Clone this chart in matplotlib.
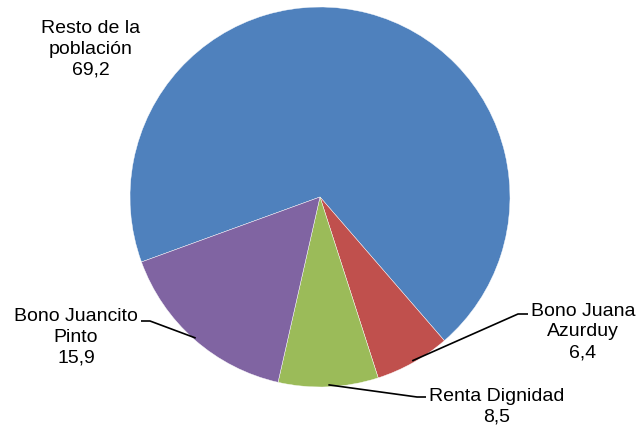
import numpy as np
import matplotlib.pyplot as plt

# data (order clockwise from the 200 deg start)
labels = ['Resto de la\npoblación', 'Bono Juana\nAzurduy', 'Renta Dignidad', 'Bono Juancito\nPinto']
values = [69.2, 6.4, 8.5, 15.9]
value_text = ['69,2', '6,4', '8,5', '15,9']
colors = ['#4F81BD', '#C0504D', '#9BBB59', '#8064A2']

W, H = 640, 429
plt.rcParams['font.family'] = ['Liberation Sans', 'DejaVu Sans']

fig = plt.figure(figsize=(W / 100, H / 100), dpi=100)
ax = fig.add_axes([0, 0, 1, 1])

cx, cy, R = 320, H - 197, 190
wedges, _ = ax.pie(values, colors=colors, startangle=200, counterclock=False,
                   center=(cx, cy), radius=R,
                   wedgeprops=dict(edgecolor='white', linewidth=0.3))
ax.set_xlim(0, W)
ax.set_ylim(0, H)
ax.set_aspect('equal')
ax.axis('off')

# label layout: (text x, text y centre, elbow, end) in image pixels, None = no leader
layout = [
    ((91, 49), None, None),
    ((583, 332), (518, 314), (528, 314)),
    ((497, 407), (417, 397), (426, 397)),
    ((76, 337), (150, 321), (141, 321)),
]

for w, lab, val, (tpos, elbow, end) in zip(wedges, labels, value_text, layout):
    ax.text(tpos[0], H - tpos[1], lab + '\n' + val, ha='center', va='center',
            fontsize=14, linespacing=1.28, color='black')
    if elbow is None:
        continue
    mid = np.deg2rad((w.theta1 + w.theta2) / 2)
    sx = cx + (R - 2) * np.cos(mid)
    sy = cy + (R - 2) * np.sin(mid)
    ax.plot([sx, elbow[0], end[0]], [sy, H - elbow[1], H - end[1]],
            color='black', lw=1.2, solid_capstyle='butt')

fig.savefig('out.png', dpi=100)
